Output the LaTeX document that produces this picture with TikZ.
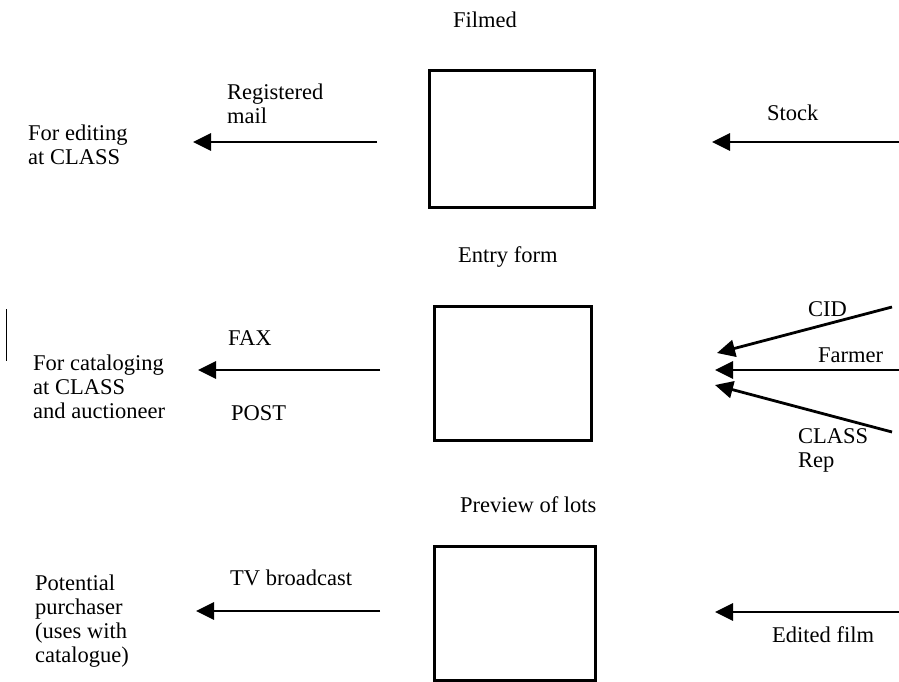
\documentclass[tikz,border=0pt]{standalone}
\usepackage{fontspec}
\setmainfont{Liberation Serif}
\usetikzlibrary{arrows.meta}
\begin{document}
\begin{tikzpicture}[x=1pt,y=-1pt,
  lbl/.style={anchor=base west, inner sep=0pt, align=left, font=\fontsize{22.5}{24}\selectfont},
  box/.style={draw, line width=3pt, inner sep=0pt},
  flow/.style={line width=2.8pt, -{Triangle[length=18pt,width=17pt]}}]
\useasboundingbox (0,0) rectangle (899,681);

% boxes
\node[box, minimum width=165pt, minimum height=137pt] (b1) at (511.5,138.5) {};
\node[box, minimum width=157pt, minimum height=134pt] (b2) at (512.5,373) {};
\node[box, minimum width=161pt, minimum height=134pt] (b3) at (514.5,613) {};

% titles
\node[lbl] (t1) at (453,27) {Filmed};
\node[lbl] (t2) at (458,262) {Entry form};
\node[lbl] (t3) at (460,512) {Preview of lots};

% row 1
\coordinate (r1ls) at (377,142);
\coordinate (r1le) at (193,142);
\coordinate (r1rs) at (899,142);
\coordinate (r1re) at (712,142);
\draw[flow] (r1ls) -- (r1le);
\draw[flow] (r1rs) -- (r1re);
\node[lbl] (reg) at (227,123) {Registered\\mail};
\node[lbl] (fed) at (28,164) {For editing\\at CLASS};
\node[lbl] (stk) at (767,120) {Stock};

% row 2
\coordinate (r2ls) at (380,370);
\coordinate (r2le) at (198,370);
\coordinate (cids) at (892,307);
\coordinate (cide) at (717,353);
\coordinate (fars) at (899,370);
\coordinate (fare) at (715,370);
\coordinate (reps) at (892,432);
\coordinate (repe) at (715,385);
\draw[flow] (r2ls) -- (r2le);
\draw[flow] (cids) -- (cide);
\draw[flow] (fars) -- (fare);
\draw[flow] (reps) -- (repe);
\node[lbl] (fax) at (228,345) {FAX};
\node[lbl] (post) at (231,420) {POST};
\node[lbl] (fcat) at (33,418) {For cataloging\\at CLASS\\and auctioneer};
\node[lbl] (cid) at (808,316) {CID};
\node[lbl] (farm) at (818,362) {Farmer};
\node[lbl] (crep) at (798,467) {CLASS\\Rep};

% row 3
\coordinate (r3ls) at (380,611);
\coordinate (r3le) at (196,611);
\coordinate (r3rs) at (899,612);
\coordinate (r3re) at (715,612);
\draw[flow] (r3ls) -- (r3le);
\draw[flow] (r3rs) -- (r3re);
\node[lbl] (tvb) at (230,585) {TV broadcast};
\node[lbl] (pot) at (35,662) {Potential\\purchaser\\(uses with\\catalogue)};
\node[lbl] (edf) at (772,642) {Edited film};

% stray mark
\coordinate (vm1) at (6,309);
\coordinate (vm2) at (6,361);
\draw[line width=1pt] (vm1) -- (vm2);
\end{tikzpicture}
\end{document}
